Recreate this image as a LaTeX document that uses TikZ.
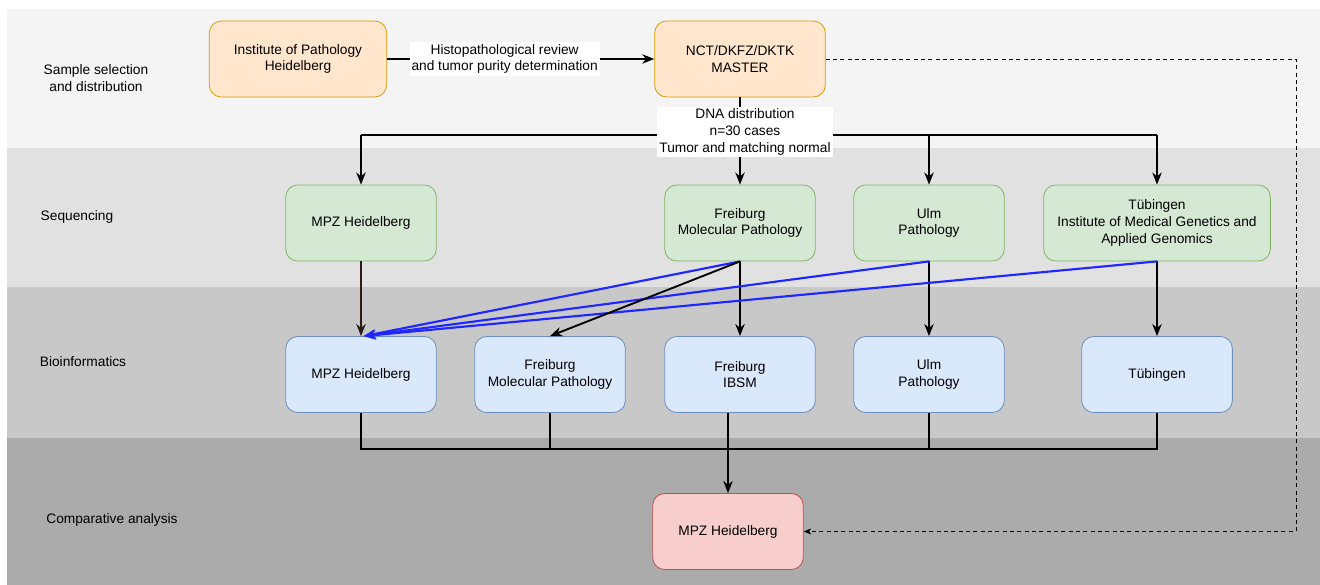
\documentclass[tikz,border=0pt]{standalone}
\usepackage{fontspec}
\setmainfont{Liberation Sans}
\usepackage{xcolor}
\usepackage{tikz}
\usetikzlibrary{arrows.meta,positioning,calc}
\definecolor{laneA}{HTML}{F4F4F4}
\definecolor{laneB}{HTML}{E1E1E1}
\definecolor{laneC}{HTML}{C8C8C8}
\definecolor{laneD}{HTML}{ABABAB}
\definecolor{orangeFill}{HTML}{FFE6CC}
\definecolor{orangeLine}{HTML}{D79B00}
\definecolor{greenFill}{HTML}{D5E8D4}
\definecolor{greenLine}{HTML}{82B366}
\definecolor{blueFill}{HTML}{DAE8FC}
\definecolor{blueLine}{HTML}{6C8EBF}
\definecolor{redFill}{HTML}{F8CECC}
\definecolor{redLine}{HTML}{B85450}
\definecolor{wire}{HTML}{1F26FF}
\definecolor{darkWire}{HTML}{2A1A18}
\tikzset{
  txt/.style={font=\fontsize{10.3}{12.6}\selectfont, align=center},
  lane/.style={txt},
  box/.style={txt, rounded corners=9pt, line width=0.6pt, minimum width=113pt,
              minimum height=57pt},
  inbox/.style={box, draw=orangeLine, fill=orangeFill},
  seqbox/.style={box, draw=greenLine, fill=greenFill},
  bioinfo/.style={box, draw=blueLine, fill=blueFill},
  result/.style={box, draw=redLine, fill=redFill},
  flow/.style={-{Stealth[length=9pt,width=7pt,inset=2.8pt]}, line width=1.4pt, draw=black},
  trunk/.style={line width=1.4pt, draw=black},
  blueflow/.style={flow, draw=wire, line width=1.6pt},
  feedback/.style={-{Stealth[length=5.5pt,width=4.5pt,inset=1.5pt]}, line width=0.6pt,
                   dash pattern=on 3pt off 2.5pt},
  lbl/.style={txt, fill=white, inner sep=1.5pt}
}
\begin{document}
\begin{tikzpicture}[x=0.75pt,y=-0.75pt]
  \useasboundingbox (0,0) rectangle (1320,585);
  % swim lanes
  \fill[laneA] (7,9) rectangle (1320,148);
  \fill[laneB] (7,148) rectangle (1320,287);
  \fill[laneC] (7,287) rectangle (1320,438);
  \fill[laneD] (7,438) rectangle (1320,585);
  \node[lane] (laneSample) at (96,78) {Sample selection\\and distribution};
  \node[lane] (laneSeq) at (77,217) {Sequencing};
  \node[lane] (laneBio) at (83,362) {Bioinformatics};
  \node[lane] (laneCmp) at (112,520) {Comparative analysis};

  % nodes
  \node[inbox, minimum width=133pt] (iph) at (298,59) {Institute of Pathology\\Heidelberg};
  \node[inbox, minimum width=128pt] (master) at (740,59) {NCT/DKFZ/DKTK\\MASTER};

  \node[seqbox] (seqMPZ) at (361,223) {MPZ Heidelberg};
  \node[seqbox] (seqFR) at (740,223) {Freiburg\\Molecular Pathology};
  \node[seqbox] (seqUlm) at (929,223) {Ulm\\Pathology};
  \node[seqbox, minimum width=170pt] (seqTue) at (1157,223)
    {T\"ubingen\\Institute of Medical Genetics and\\Applied Genomics};

  \node[bioinfo] (bioMPZ) at (361,374.5) {MPZ Heidelberg};
  \node[bioinfo] (bioFRmp) at (550,374.5) {Freiburg\\Molecular Pathology};
  \node[bioinfo] (bioIBSM) at (740,374.5) {Freiburg\\IBSM};
  \node[bioinfo] (bioUlm) at (929,374.5) {Ulm\\Pathology};
  \node[bioinfo] (bioTue) at (1157,374.5) {T\"ubingen};

  \node[result] (cmp) at (728,531.5) {MPZ Heidelberg};

  % sample flow
  \draw[flow] (iph) -- node[lbl, pos=0.44] {Histopathological review\\and tumor purity determination} (master);
  \coordinate (bus) at (740,135);
  \draw[trunk] (master.south) -- (bus);
  \draw[trunk] (bus -| seqMPZ) -- (bus -| seqTue);
  \foreach \dest in {seqMPZ,seqFR,seqUlm,seqTue}
    \draw[flow] (bus -| \dest) -- (\dest.north);
  \node[lbl] (dna) at (745,132) {DNA distribution\\n=30 cases\\Tumor and matching normal};

  % sequencing to bioinformatics
  \draw[flow, draw=darkWire] (seqMPZ) -- (bioMPZ);
  \draw[flow] (seqFR) -- (bioIBSM);
  \draw[flow] (seqUlm) -- (bioUlm);
  \draw[flow] (seqTue) -- (bioTue);
  \foreach \src in {seqFR,seqUlm,seqTue}
    \draw[blueflow] (\src.south) -- ([xshift=2pt]bioMPZ.north);
  \draw[flow] (seqFR.south) -- (bioFRmp.north);

  % merge into comparative analysis
  \coordinate (merge) at (728,449);
  \draw[trunk] (bioMPZ.south) -- (bioMPZ |- merge) -- (bioTue |- merge) -- (bioTue.south);
  \draw[trunk] (bioFRmp.south) -- (bioFRmp |- merge);
  \draw[trunk] (bioUlm.south) -- (bioUlm |- merge);
  \draw[trunk] (cmp |- bioIBSM.south) -- (merge);
  \draw[flow, line width=2.1pt] (merge) -- (cmp.north);

  % direct path from MASTER
  \coordinate (rim) at (1296,0);
  \draw[feedback] (master.east) -- (master.east -| rim) -- (cmp.east -| rim) -- (cmp.east);
\end{tikzpicture}
\end{document}
